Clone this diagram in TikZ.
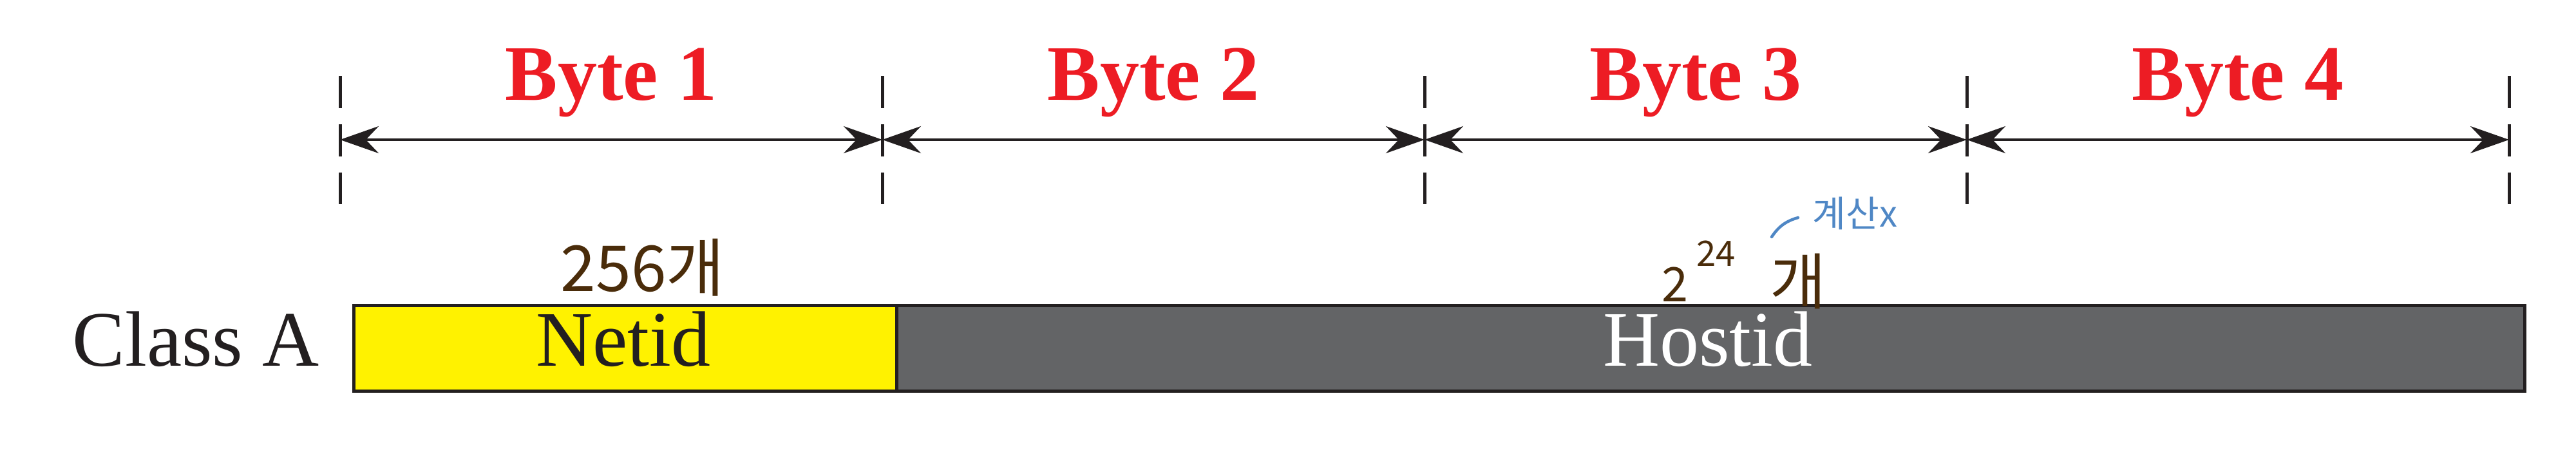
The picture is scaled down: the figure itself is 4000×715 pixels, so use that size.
\documentclass[tikz,border=0pt]{standalone}
\usepackage{fontspec}
\setmainfont{Liberation Serif}
\newfontfamily\hwfont{Noto Sans CJK KR}
\usetikzlibrary{arrows.meta}
\definecolor{bytered}{HTML}{ED1C24}
\definecolor{ink}{HTML}{231F20}
\definecolor{netyellow}{HTML}{FFF200}
\definecolor{hostgray}{HTML}{636466}
\definecolor{penbrown}{HTML}{4A2C0A}
\definecolor{penblue}{HTML}{4F87C5}
\begin{document}
\begin{tikzpicture}[x=0.01cm,y=-0.01cm,
  guide/.style={draw=ink, line width=0.05cm, dash pattern=on 0.5cm off 0.25cm},
  span/.style={draw=ink, line width=0.04cm,
    {Stealth[length=0.6cm,width=0.42cm,inset=0.2cm]}-{Stealth[length=0.6cm,width=0.42cm,inset=0.2cm]}},
  bytelbl/.style={text=bytered, font=\fontsize{34.7pt}{40pt}\selectfont\bfseries, anchor=base, inner sep=0pt},
  field/.style={draw=ink, line width=0.05cm, minimum height=1.33cm, inner sep=0pt, anchor=north west},
  fieldtxt/.style={font=\fontsize{34.7pt}{40pt}\selectfont, anchor=base, inner sep=0pt},
  pen/.style={text=penbrown, inner sep=0pt}
]
\useasboundingbox (0,0) rectangle (4000,715);
% guides
\foreach \i/\x in {0/528,1/1370,2/2212,3/3054,4/3896}{
  \draw[guide] (\x,118) -- (\x,317);
  \coordinate (g\i) at (\x,217);
}
\draw[span] (g0) -- (g1);
\draw[span] (g1) -- (g2);
\draw[span] (g2) -- (g3);
\draw[span] (g3) -- (g4);
\node[bytelbl] (b1) at (949,155) {Byte 1};
\node[bytelbl] (b2) at (1791,155) {Byte 2};
\node[bytelbl] (b3) at (2633,155) {Byte 3};
\node[bytelbl] (b4) at (3475,155) {Byte 4};
% fields
\node[field, fill=hostgray, minimum width=25.27cm] (host) at (1389,472) {};
\node[field, fill=netyellow, minimum width=8.42cm] (net) at (547,472) {};
\node[fieldtxt, text=ink] (netlbl) at (968,568) {Netid};
\node[fieldtxt, text=white] (hostlbl) at (2652,568) {Hostid};
\node[fieldtxt, text=ink, anchor=base west] (cls) at (112,568) {Class A};
% handwritten notes
\node[pen, anchor=base west, font=\hwfont\fontsize{28pt}{32pt}\selectfont] (n256) at (870,452) {256개};
\node[pen, anchor=base west, font=\hwfont\fontsize{21pt}{24pt}\selectfont] (two) at (2580,468) {2};
\node[pen, anchor=base west, font=\hwfont\fontsize{15.5pt}{18pt}\selectfont] (exp) at (2634,413) {24};
\node[pen, anchor=base west, font=\hwfont\fontsize{27pt}{30pt}\selectfont] (gae) at (2748,472) {개};
\node[text=penblue, inner sep=0pt, anchor=base west, font=\hwfont\fontsize{16pt}{18pt}\selectfont] (calc) at (2814,352) {계산x};
\coordinate (c0) at (2751,368);
\coordinate (c1) at (2792,338);
\draw[penblue, line width=0.045cm, line cap=round] (c0) to[bend left=20] (c1);
\end{tikzpicture}
\end{document}
